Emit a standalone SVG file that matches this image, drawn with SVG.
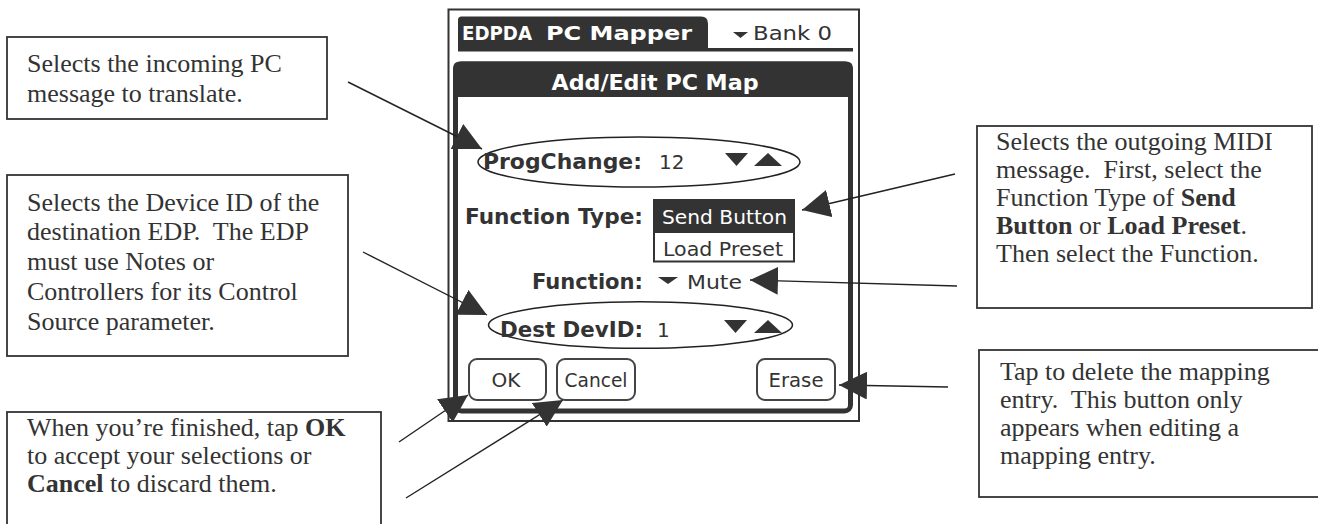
<svg xmlns="http://www.w3.org/2000/svg" width="1318" height="524" viewBox="0 0 1318 524">
<style>
.box{fill:#fff;stroke:#333;stroke-width:1.8}
.note{font-family:"Liberation Serif","Times New Roman",serif;font-size:26px;fill:#333;white-space:pre}
.b{font-weight:bold}
.palm{font-family:"DejaVu Sans",sans-serif;fill:#333}
.lbl{font-weight:bold;font-size:21.5px}
.hdr{font-weight:bold;font-size:20px}
.ttl{font-weight:bold;font-size:22px}
.reg{font-size:20px}
.wh{fill:#fff}
.dark{fill:#333}
.btn{fill:#fff;stroke:#444;stroke-width:2}
.oval{fill:none;stroke:#222;stroke-width:1.5}
.conn{stroke:#222;stroke-width:1.4;fill:none;marker-end:url(#ah)}
</style>
<defs>
<marker id="ah" markerUnits="userSpaceOnUse" markerWidth="28" markerHeight="28" refX="28" refY="14" orient="auto" viewBox="0 0 28 28">
<path d="M0,0 L28,14 L0,28 Z" fill="#333"/>
</marker>
</defs>
<rect width="1318" height="524" fill="#fff"/>

<g id="screen">
<rect x="448.5" y="9.5" width="410.5" height="411.5" fill="#fff" stroke="#333" stroke-width="2"/>
<path d="M458,51 V20 Q458,16.5 461.5,16.5 H701 Q708,16.5 708,23.5 V51 Z" class="dark"/>
<rect x="458" y="48" width="395" height="3.5" class="dark"/>
<text class="palm hdr wh" x="462" y="39.5" textLength="70" lengthAdjust="spacingAndGlyphs">EDPDA</text>
<text class="palm hdr wh" x="546" y="39.5" textLength="146" lengthAdjust="spacingAndGlyphs">PC Mapper</text>
<polygon points="733,32 748,32 740.5,38" class="dark"/>
<text class="palm reg" x="753" y="39.5" textLength="79" lengthAdjust="spacingAndGlyphs">Bank 0</text>
</g>

<g id="dialog">
<rect x="455.5" y="64" width="395" height="347" rx="6" fill="#fff" stroke="#333" stroke-width="5"/>
<path d="M453,97 V68.5 Q453,61.5 460,61.5 H846 Q853,61.5 853,68.5 V97 Z" class="dark"/>
<text class="palm ttl wh" x="655" y="89.5" text-anchor="middle" textLength="207" lengthAdjust="spacingAndGlyphs">Add/Edit PC Map</text>
</g>

<g id="progchange">
<ellipse cx="639" cy="162" rx="161" ry="25" class="oval"/>
<text class="palm lbl" x="483" y="168.5" textLength="159" lengthAdjust="spacingAndGlyphs">ProgChange:</text>
<text class="palm reg" x="659" y="168.5">12</text>
<polygon points="725,153 748,153 736.5,166" class="dark"/>
<polygon points="754,166 782,166 768,153" class="dark"/>
</g>

<g id="functiontype">
<text class="palm lbl" x="465" y="223.5" textLength="178" lengthAdjust="spacingAndGlyphs">Function Type:</text>
<rect x="653" y="199" width="142" height="33" class="dark"/>
<text class="palm reg wh" x="662" y="223.5" textLength="125" lengthAdjust="spacingAndGlyphs">Send Button</text>
<rect x="654" y="232" width="140" height="29.5" fill="#fff" stroke="#333" stroke-width="2"/>
<text class="palm reg" x="663" y="256" textLength="120" lengthAdjust="spacingAndGlyphs">Load Preset</text>
</g>

<g id="function">
<text class="palm lbl" x="532" y="288.5" textLength="111" lengthAdjust="spacingAndGlyphs">Function:</text>
<polygon points="658,277 678,277 668,284" class="dark"/>
<text class="palm reg" x="687" y="288.5" textLength="55" lengthAdjust="spacingAndGlyphs">Mute</text>
</g>

<g id="destdevid">
<ellipse cx="640.5" cy="325" rx="152" ry="23.3" class="oval"/>
<text class="palm lbl" x="500" y="337" textLength="143" lengthAdjust="spacingAndGlyphs">Dest DevID:</text>
<text class="palm reg" x="657" y="337">1</text>
<polygon points="724,320 747,320 735.5,333" class="dark"/>
<polygon points="754,333 782,333 768,320" class="dark"/>
</g>

<g id="btn-ok">
<rect x="469" y="359" width="77" height="41" rx="8" class="btn"/>
<text class="palm reg" x="506" y="387" text-anchor="middle">OK</text>
</g>
<g id="btn-cancel">
<rect x="557" y="359" width="78" height="41" rx="8" class="btn"/>
<text class="palm reg" x="596" y="387" text-anchor="middle" textLength="63" lengthAdjust="spacingAndGlyphs">Cancel</text>
</g>
<g id="btn-erase">
<rect x="757" y="359" width="78" height="41" rx="8" class="btn"/>
<text class="palm reg" x="796" y="387" text-anchor="middle" textLength="55" lengthAdjust="spacingAndGlyphs">Erase</text>
</g>

<g id="note-progchange">
<rect x="7" y="37" width="320" height="82" class="box"/>
<text class="note" x="27" y="72">Selects the incoming PC</text>
<text class="note" x="27" y="102">message to translate.</text>
</g>

<g id="note-devid">
<rect x="7" y="175" width="341" height="181" class="box"/>
<text class="note" x="27" y="210.5">Selects the Device ID of the</text>
<text class="note" x="27" y="240">destination EDP.  The EDP</text>
<text class="note" x="27" y="270">must use Notes or</text>
<text class="note" x="27" y="300">Controllers for its Control</text>
<text class="note" x="27" y="330">Source parameter.</text>
</g>

<g id="note-ok">
<rect x="7" y="412" width="374" height="130" class="box"/>
<text class="note" x="27" y="436">When you’re finished, tap <tspan class="b">OK</tspan></text>
<text class="note" x="27" y="464">to accept your selections or</text>
<text class="note" x="27" y="492"><tspan class="b">Cancel</tspan> to discard them.</text>
</g>

<g id="note-function">
<rect x="977" y="126" width="335" height="182" class="box"/>
<text class="note" x="996" y="150">Selects the outgoing MIDI</text>
<text class="note" x="996" y="178">message.  First, select the</text>
<text class="note" x="996" y="206">Function Type of <tspan class="b">Send</tspan></text>
<text class="note" x="996" y="234"><tspan class="b">Button</tspan> or <tspan class="b">Load Preset</tspan>.</text>
<text class="note" x="996" y="262">Then select the Function.</text>
</g>

<g id="note-erase">
<rect x="979" y="350" width="360" height="147" class="box"/>
<text class="note" x="1000" y="380">Tap to delete the mapping</text>
<text class="note" x="1000" y="408">entry.  This button only</text>
<text class="note" x="1000" y="436">appears when editing a</text>
<text class="note" x="1000" y="464">mapping entry.</text>
</g>

<g id="connectors">
<line x1="348" y1="82" x2="482" y2="149" class="conn"/>
<line x1="363" y1="252" x2="487" y2="315" class="conn"/>
<line x1="399" y1="442" x2="468" y2="395" class="conn"/>
<line x1="406" y1="498" x2="563" y2="400" class="conn"/>
<line x1="955" y1="174" x2="802" y2="210" class="conn"/>
<line x1="957" y1="286" x2="750" y2="280" class="conn"/>
<line x1="948" y1="387" x2="839" y2="385" class="conn"/>
</g>
</svg>
